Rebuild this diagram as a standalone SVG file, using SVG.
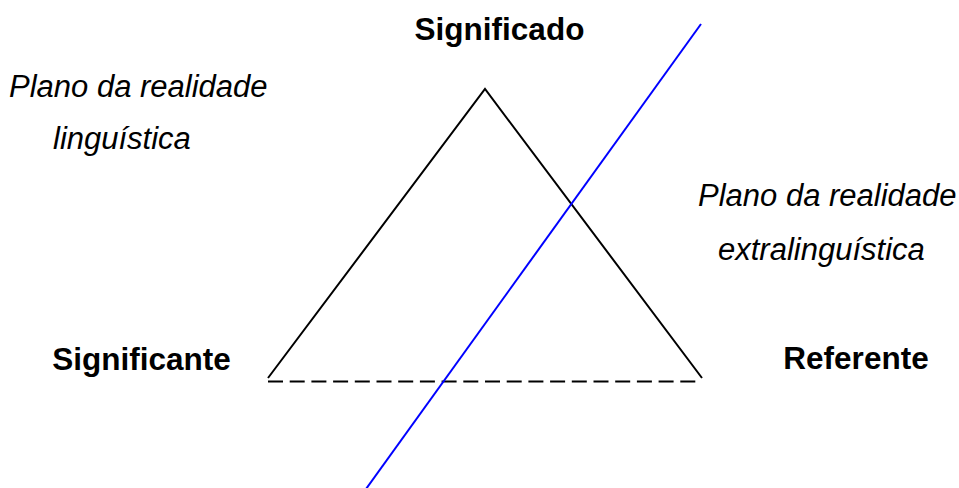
<svg xmlns="http://www.w3.org/2000/svg" width="959" height="488" viewBox="0 0 959 488">
<style>
.b{font-family:"Liberation Sans",Arial,sans-serif;font-weight:bold;font-size:31.5px;fill:#000}
.i{font-family:"Liberation Sans",Arial,sans-serif;font-style:italic;font-size:31px;fill:#000}
.edge{fill:none;stroke:#000;stroke-width:2}
</style>
<rect width="959" height="488" fill="#fff"/>
<g id="connectors">
<path class="edge" d="M268,378 L485,89 L702,378"/>
<line class="edge" x1="268" y1="381.5" x2="702" y2="381.5" stroke-dasharray="15,6.7"/>
<line x1="701" y1="24" x2="366" y2="489" stroke="#0000ff" stroke-width="2"/>
</g>
<g id="significado"><text class="b" x="499.5" y="40" text-anchor="middle">Significado</text></g>
<g id="significante"><text class="b" x="141.5" y="370" text-anchor="middle">Significante</text></g>
<g id="referente"><text class="b" x="856" y="369" text-anchor="middle">Referente</text></g>
<g id="plano-linguistica">
<text class="i" x="9" y="97">Plano da realidade</text>
<text class="i" x="53" y="149">linguística</text>
</g>
<g id="plano-extralinguistica">
<text class="i" x="698" y="206">Plano da realidade</text>
<text class="i" x="718" y="260">extralinguística</text>
</g>
</svg>
